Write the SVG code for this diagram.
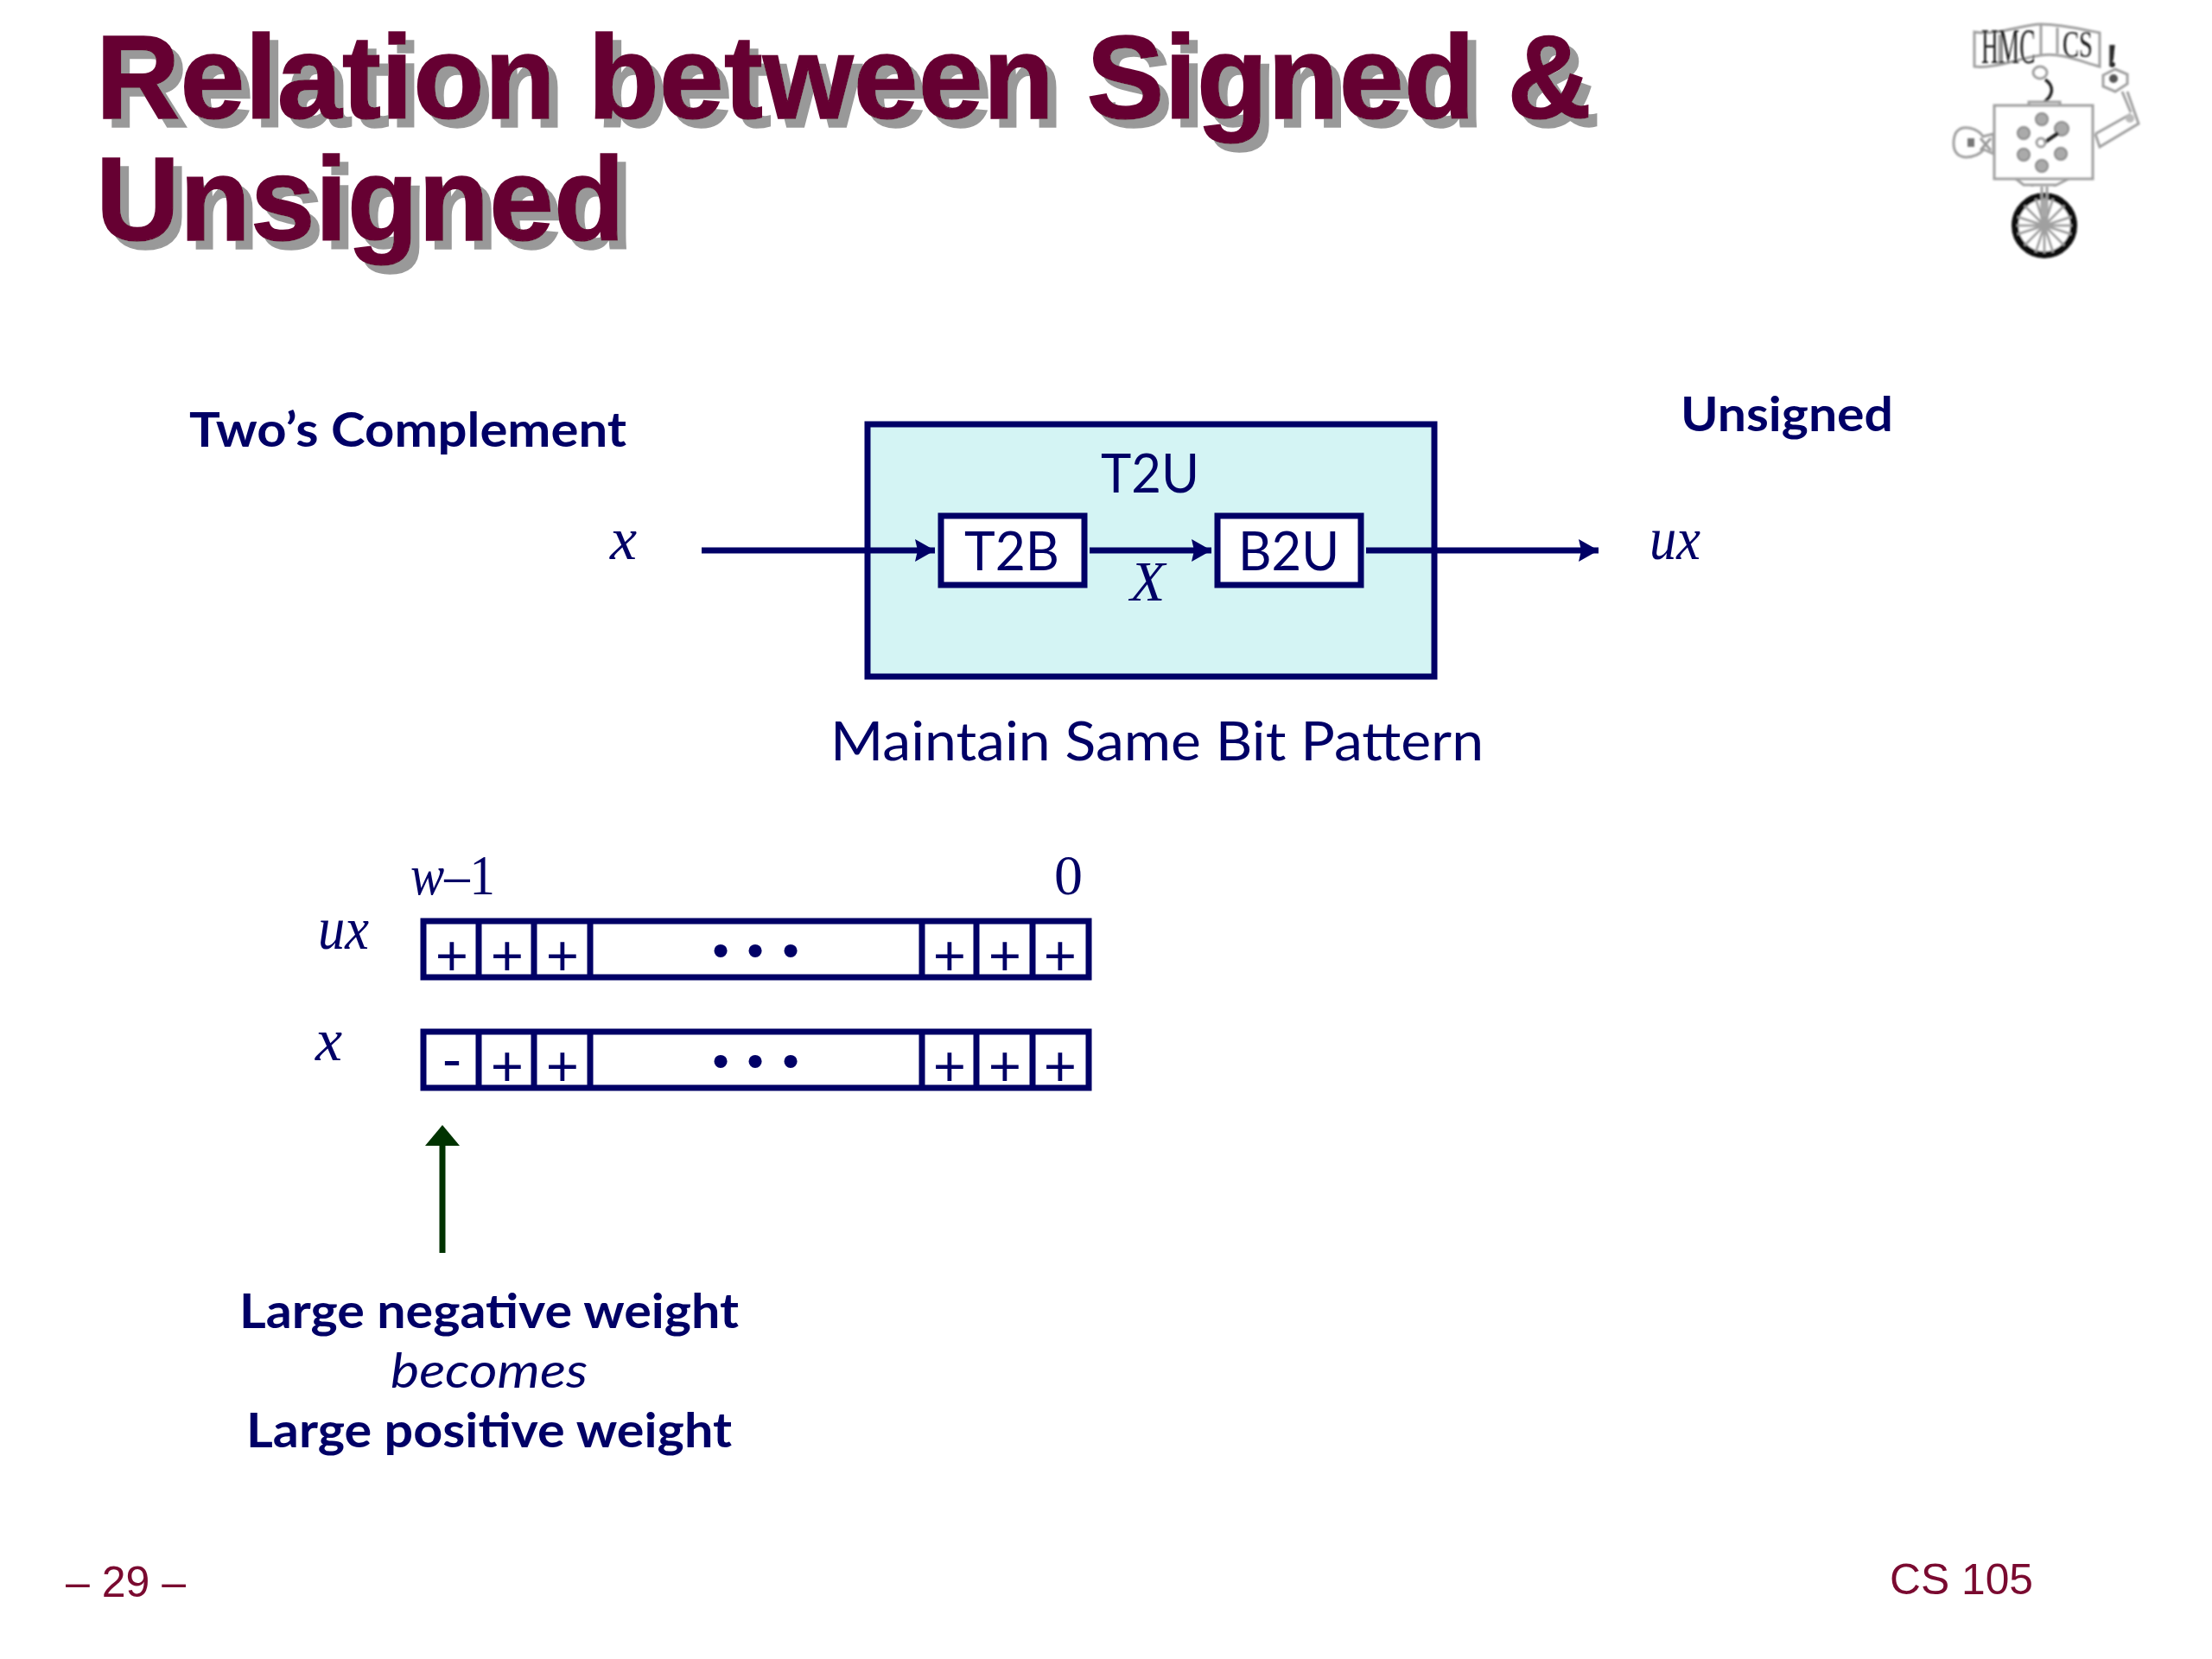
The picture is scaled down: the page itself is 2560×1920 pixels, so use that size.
<svg xmlns="http://www.w3.org/2000/svg" width="2560" height="1920" viewBox="0 0 2560 1920">
<defs>
<style>
.title{font:bold 137px "Liberation Sans",Arial,sans-serif;fill:#660033;stroke:#660033;stroke-width:1.5}
.cal{font-family:Lato,"Open Sans",sans-serif;fill:#000066}
.b{font-weight:700;font-size:56px}
.r{font-size:62px}
.it{font-family:"Liberation Serif","Times New Roman",serif;font-style:italic;font-size:66px;fill:#000066}
.v{font-size:70px}
.ser{font-family:"Liberation Serif","Times New Roman",serif;font-style:normal;font-size:66px;fill:#000066}
.foot{font:50px "Liberation Sans",Arial,sans-serif;fill:#7a0a30}
.box{fill:#fff;stroke:#000066;stroke-width:7}
.wire{stroke:#000066;stroke-width:7;fill:none;marker-end:url(#ah)}
.cell{stroke:#000066;stroke-width:7;fill:none}
.pl{font-family:Lato,sans-serif;font-size:66px;fill:#000066;text-anchor:middle}
.dots{font-family:"Liberation Sans",sans-serif;font-size:56px;fill:#000066;text-anchor:middle}
.lg{fill:none;stroke:#a0a0a0;stroke-width:3}
.blk{font-family:"Liberation Serif",serif;fill:#1a1a1a}
</style>
<marker id="ah" markerUnits="userSpaceOnUse" markerWidth="24" markerHeight="26" refX="23" refY="13" orient="auto"><path d="M0 0L23 13L0 26L3 13Z" fill="#000066"/></marker>
<filter id="soft" x="-5%" y="-5%" width="110%" height="110%"><feGaussianBlur stdDeviation="0.9"/></filter>
<filter id="shadow" x="-2%" y="-5%" width="104%" height="120%"><feDropShadow dx="10" dy="10" stdDeviation="0.6" flood-color="#999"/></filter>
</defs>
<rect width="2560" height="1920" fill="#fff"/>
<g id="title" filter="url(#shadow)">
<text class="title" x="111" y="137" textLength="1731" lengthAdjust="spacingAndGlyphs">Relation between Signed &amp;</text>
<text class="title" x="111" y="278" textLength="612" lengthAdjust="spacingAndGlyphs">Unsigned</text>
</g>
<g id="logo" filter="url(#soft)">
<path class="lg" fill="#fff" d="M2285 37C2310 42 2340 28 2362 28C2385 28 2410 34 2430 38L2430 77C2410 72 2385 60 2362 64C2340 66 2310 80 2285 77Z"/>
<path class="lg" d="M2362 28V64M2314 40V75M2381 32V62"/>
<text class="blk" transform="translate(2293 73) scale(.49 1)" font-size="56">HMC</text>
<text class="blk" transform="translate(2387 66) scale(.65 1)" font-size="44">CS</text>
<text class="blk" x="2438" y="78" font-size="40" font-weight="700">!</text>
<ellipse class="lg" cx="2361" cy="84" rx="8" ry="7"/>
<path d="M2367 92C2378 100 2376 110 2366 118" fill="none" stroke="#222" stroke-width="3.5"/>
<rect class="lg" x="2308" y="122" width="114" height="85" fill="#fff"/>
<path class="lg" d="M2348 122V118H2384V122M2333 207L2342 214H2380L2394 207M2352 214V216M2378 214V216"/>
<path class="lg" d="M2307 155L2295 158C2290 150 2280 147 2272 148C2262 150 2261 160 2261 166C2261 174 2264 181 2275 182C2284 182 2292 178 2296 173L2307 178Z"/>
<path d="M2277 160h8v10h-8z" fill="#777"/>
<path d="M2292 160l12 14M2292 174l12-14" stroke="#999" stroke-width="3"/>
<path class="lg" d="M2425 155L2430 170L2475 143L2462 106M2425 155L2466 132M2456 106L2466 130"/>
<circle cx="2465" cy="137" r="5" fill="#bbb"/>
<path class="lg" d="M2434 87L2448 80L2462 86L2462 97L2448 106L2434 100Z"/>
<circle cx="2446" cy="91" r="5" fill="#555"/>
<path d="M2443 52V77" stroke="#333" stroke-width="3.5"/>
<g fill="#aaa" stroke="#888" stroke-width="2"><circle cx="2363" cy="138" r="7"/><circle cx="2342" cy="154" r="7"/><circle cx="2386" cy="149" r="8"/><circle cx="2342" cy="179" r="7"/><circle cx="2385" cy="178" r="7"/><circle cx="2363" cy="192" r="7"/></g>
<path d="M2366 165L2382 154" stroke="#222" stroke-width="4"/>
<circle cx="2362" cy="165" r="5" class="lg" fill="#fff"/>
<circle cx="2366" cy="261" r="34" fill="#fff" stroke="#111" stroke-width="8"/>
<path class="lg" d="M2366 229V293M2334 261H2398M2343 238L2389 284M2389 238L2343 284M2356 230L2376 292M2376 230L2356 292M2335 251L2397 271M2335 271L2397 251" stroke-width="2"/>
<path class="lg" d="M2363 216V258M2369 216V258"/>
</g>
<g id="labels">
<text class="cal b" x="219" y="517" textLength="506" lengthAdjust="spacingAndGlyphs">Two’s Complement</text>
<text class="cal b" x="1945" y="499" textLength="246" lengthAdjust="spacingAndGlyphs">Unsigned</text>
<text class="it v" x="706" y="647">x</text>
<text class="it v" x="1909" y="647" textLength="59" lengthAdjust="spacingAndGlyphs">ux</text>
<text class="cal r" x="961" y="880" textLength="756" lengthAdjust="spacingAndGlyphs">Maintain Same Bit Pattern</text>
<text class="it" x="475" y="1035" textLength="98" lengthAdjust="spacingAndGlyphs">w<tspan class="ser">–1</tspan></text>
<text class="ser" x="1220" y="1035">0</text>
<text class="it v" x="368" y="1098" textLength="59" lengthAdjust="spacingAndGlyphs">ux</text>
<text class="it v" x="365" y="1227">x</text>
<text class="cal b" x="277" y="1537" textLength="578" lengthAdjust="spacingAndGlyphs">Large negative weight</text>
<text class="cal r" x="452" y="1606" font-style="italic" style="font-size:56px" textLength="228" lengthAdjust="spacingAndGlyphs">becomes</text>
<text class="cal b" x="285" y="1675" textLength="562" lengthAdjust="spacingAndGlyphs">Large positive weight</text>
<text class="foot" x="76" y="1848" textLength="139" lengthAdjust="spacingAndGlyphs">– 29 –</text>
<text class="foot" x="2187" y="1845" textLength="166" lengthAdjust="spacingAndGlyphs">CS 105</text>
</g>
<g id="t2u">
<rect x="1004" y="491" width="656" height="292" fill="#d4f4f4" stroke="#000066" stroke-width="7"/>
<text class="cal r" x="1274" y="570" textLength="114" lengthAdjust="spacingAndGlyphs">T2U</text>
<text class="it" x="1308" y="695">X</text>
</g>
<g id="t2b"><rect class="box" x="1089" y="597" width="166" height="80"/><text class="cal r" x="1116" y="660" textLength="110" lengthAdjust="spacingAndGlyphs">T2B</text></g>
<g id="b2u"><rect class="box" x="1409" y="597" width="166" height="80"/><text class="cal r" x="1433" y="660" textLength="117" lengthAdjust="spacingAndGlyphs">B2U</text></g>
<g id="connectors">
<path class="wire" d="M812 637H1082"/>
<path class="wire" d="M1261 637H1402"/>
<path class="wire" d="M1581 637H1850"/>
<path d="M512 1450V1322" stroke="#003300" stroke-width="7" fill="none"/>
<path d="M512 1302L532 1326H492Z" fill="#003300"/>
</g>
<g id="ux-bits">
<rect class="cell" x="490" y="1066" width="770" height="65"/>
<path class="cell" d="M554 1063v71M618 1063v71M683 1063v71M1067 1063v71M1130 1063v71M1195 1063v71"/>
<text class="pl" y="1129"><tspan x="523">+</tspan><tspan x="587">+</tspan><tspan x="651">+</tspan><tspan x="1099">+</tspan><tspan x="1163">+</tspan><tspan x="1227">+</tspan></text>
<text class="dots" y="1119"><tspan x="834">•</tspan><tspan x="874">•</tspan><tspan x="915">•</tspan></text>
</g>
<g id="x-bits">
<rect class="cell" x="490" y="1194" width="770" height="65"/>
<path class="cell" d="M554 1191v71M618 1191v71M683 1191v71M1067 1191v71M1130 1191v71M1195 1191v71"/>
<text class="pl" y="1257"><tspan x="587">+</tspan><tspan x="651">+</tspan><tspan x="1099">+</tspan><tspan x="1163">+</tspan><tspan x="1227">+</tspan></text>
<text class="pl" x="523" y="1250">-</text>
<text class="dots" y="1247"><tspan x="834">•</tspan><tspan x="874">•</tspan><tspan x="915">•</tspan></text>
</g>
</svg>
